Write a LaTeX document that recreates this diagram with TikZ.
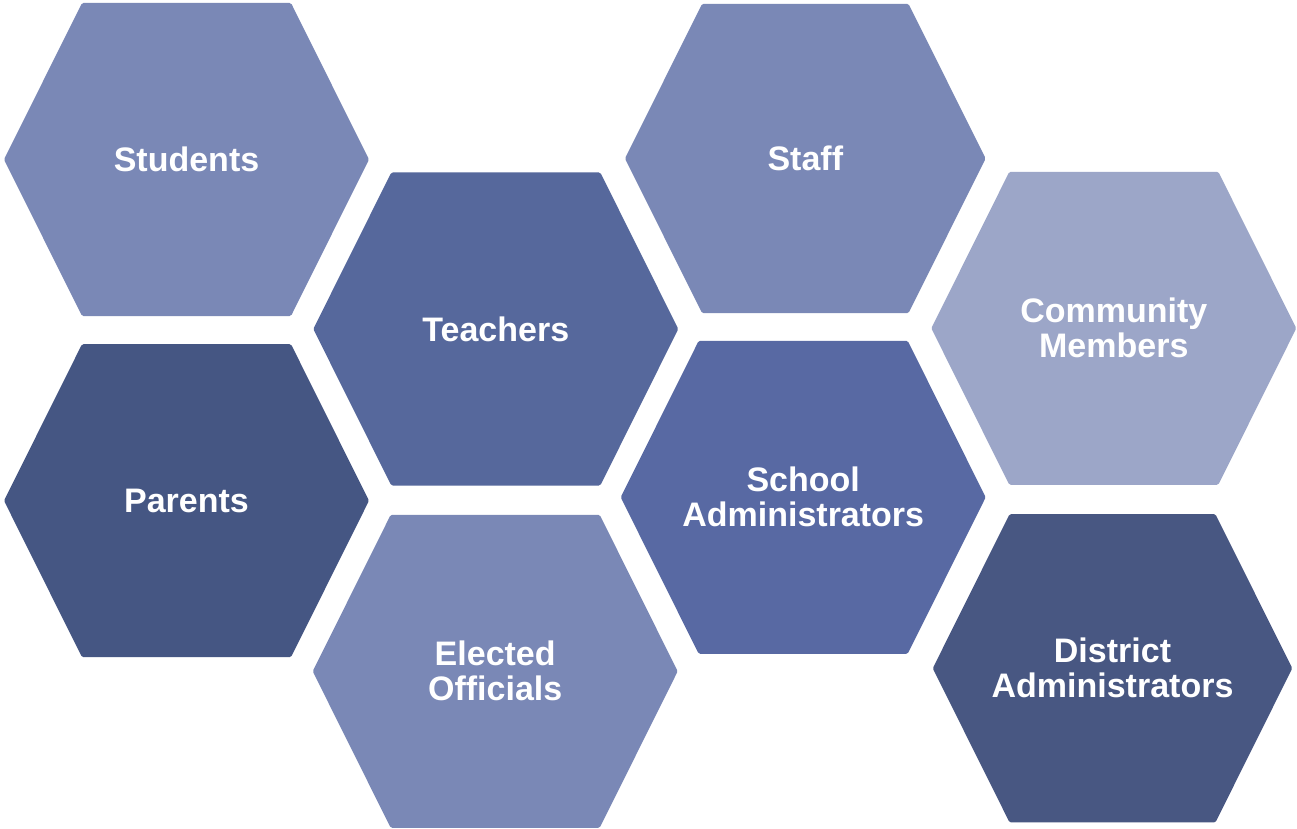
\documentclass[tikz,border=0pt]{standalone}
\usepackage{fontspec}
\setmainfont{Liberation Sans}
\definecolor{hexmid}{HTML}{7A88B6}
\definecolor{hexteach}{HTML}{56689C}
\definecolor{hexschool}{HTML}{5869A3}
\definecolor{hexparent}{HTML}{455683}
\definecolor{hexdistrict}{HTML}{485782}
\definecolor{hexlight}{HTML}{9CA6C8}
% one hexagonal cell: name, centre x, centre y, scale, colour, label
\newcommand\hexcell[6]{%
  \begin{scope}[shift={(#2,#3)}, scale=#4]
    \fill[#5, rounded corners=1.5]
      (-182.5,0) -- (-104.5,-156.5) -- (104.5,-156.5) -- (182.5,0)
      -- (104.5,156.5) -- (-104.5,156.5) -- cycle;
  \end{scope}
  \node[cell label] (#1) at (#2,#3) {#6};
}
\begin{document}
\begin{tikzpicture}[x=1pt, y=-1pt,
  cell label/.style={text=white, align=center,
    font=\fontsize{34}{35}\selectfont\bfseries, inner sep=0pt}]
\useasboundingbox[fill=white] (0,0) rectangle (1297,829);
\hexcell{students}{186.5}{159.5}{1}{hexmid}{Students}
\hexcell{teachers}{495.8}{329}{1}{hexteach}{Teachers}
\hexcell{parents}{186.5}{500.7}{1}{hexparent}{Parents}
\hexcell{elected}{495.2}{671.3}{1}{hexmid}{Elected\\Officials}
\hexcell{staff}{805.3}{158.5}{0.988}{hexmid}{Staff}
\hexcell{school}{803.2}{497.3}{1}{hexschool}{School\\Administrators}
\hexcell{community}{1113.8}{328.3}{1}{hexlight}{Community\\Members}
\hexcell{district}{1112.5}{668.3}{0.985}{hexdistrict}{District\\Administrators}
\end{tikzpicture}
\end{document}
